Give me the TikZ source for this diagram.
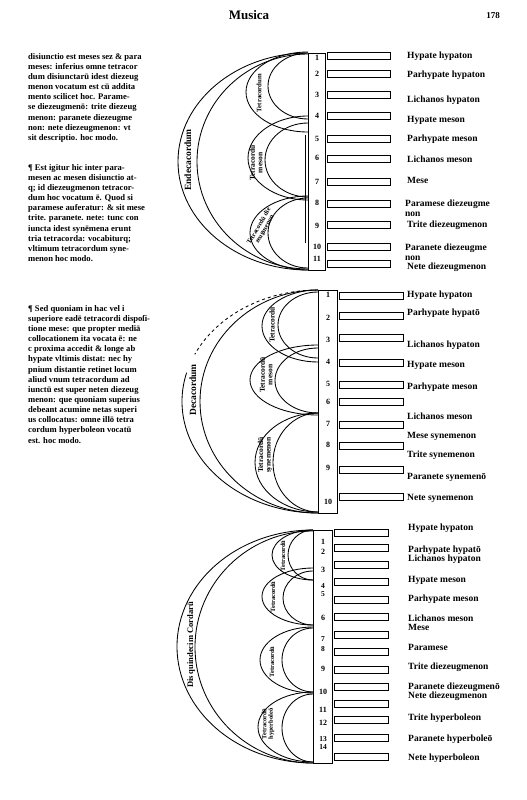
\documentclass[tikz,border=0pt]{standalone}
\usepackage{fontspec}
\setmainfont{Liberation Serif}
\begin{document}
\begin{tikzpicture}[x=1pt,y=-1pt,
  ln/.style={line width=0.85pt,black},
  barbox/.style={line width=0.75pt,black},
  lbl/.style={anchor=west,inner sep=0pt,font=\fontsize{9.5}{9.5}\selectfont\bfseries,align=left},
  lblt/.style={anchor=west,inner sep=0pt,font=\fontsize{9.5}{9}\selectfont\bfseries,align=left},
  num/.style={inner sep=0pt,align=center,font=\fontsize{8}{8}\selectfont\bfseries},
  body/.style={anchor=north west,inner sep=0pt,align=left,font=\fontsize{8.6}{10.15}\selectfont\bfseries},
  tl/.style={inner sep=0pt,align=center,font=\fontsize{7.5}{7.5}\selectfont\bfseries},
  tls/.style={inner sep=0pt,align=center,font=\fontsize{6.5}{6.5}\selectfont\bfseries},
  bl/.style={inner sep=0pt,font=\fontsize{9.5}{9.5}\selectfont\bfseries}]
\fill[white] (0,0) rectangle (527,800);
\useasboundingbox (0,0) rectangle (527,800);

% header
\node[inner sep=0pt,font=\fontsize{13}{13}\selectfont\bfseries] (head) at (249,15) {Musica};
\node[inner sep=0pt,font=\fontsize{9}{9}\selectfont\bfseries] (page) at (493,16) {178};

% left text
\node[body] (txt1) at (28,53) {disiunctio est meses sez \& para\\
meses: inferius omne tetracor\\
dum disiunctarū idest diezeug\\
menon vocatum est cū addita\\
mento scilicet hoc. Parame-\\
se diezeugmenō: trite diezeug\\
menon: paranete diezeugme\\
non: nete diezeugmenon: vt\\
sit descriptio. hoc modo.};

\node[body] (txt2) at (28,164) {¶ Est igitur hic inter para-\\
mesen ac mesen disiunctio at-\\
q; id diezeugmenon tetracor-\\
dum hoc vocatum ē. Quod si\\
paramese auferatur: \& sit mese\\
trite. paranete. nete: tunc con\\
iuncta idest synēmena erunt\\
tria tetracorda: vocabiturq;\\
vltimum tetracordum syne-\\
menon hoc modo.};

\node[body] (txt3) at (28,305) {¶ Sed quoniam in hac vel i\\
superiore eadē tetracordi dispoſi-\\
tione mese: que propter mediā\\
collocationem ita vocata ē: ne\\
c proxima accedit \& longe ab\\
hypate vltimis distat: nec hy\\
pnium distantie retinet locum\\
aliud vnum tetracordum ad\\
iunctū est super neten diezeug\\
menon: que quoniam superius\\
debeant acumine netas superi\\
us collocatus: omne illō tetra\\
cordum hyperboleon vocatū\\
est. hoc modo.};

% ================= diagram 1 =================
\draw[ln] (308,53) rectangle (325,270);
\draw[ln] (305,135) -- (305,243);
\foreach \y in {56,74,95,116,139,159,182,204,225,247,264}
  \draw[barbox] (327,\y-3.5) rectangle (390,\y+3.5);
\foreach \n/\y in {1/58,2/74,3/95,4/116,5/139,6/158,7/182,8/203,9/226,10/247,11/259}
  \node[num] (da\n) at (317,\y) {\n};
% arcs
\draw[ln] (308,53) arc[start angle=90,end angle=270,x radius=130pt,y radius=108.5pt];
\draw[ln] (308,54) arc[start angle=90,end angle=270,x radius=111pt,y radius=107.5pt];
\draw[ln] (308,52) arc[start angle=90,end angle=270,x radius=62pt,y radius=40pt];
\draw[ln] (308,53) arc[start angle=90,end angle=270,x radius=40pt,y radius=33pt];
\draw[ln] (308,116) arc[start angle=90,end angle=270,x radius=60pt,y radius=42pt];
\draw[ln] (308,123) arc[start angle=90,end angle=270,x radius=43pt,y radius=37pt];
\draw[ln] (308,196) arc[start angle=90,end angle=270,x radius=58pt,y radius=37pt];
\draw[ln] (308,198) arc[start angle=90,end angle=270,x radius=40pt,y radius=35pt];
% labels on arcs
\node[bl,rotate=90] (e1) at (188,160) {Endecacordum};
\node[tl,rotate=90,font=\fontsize{6.8}{6.8}\selectfont\bfseries] (t11) at (259,93) {Tetracordum};
\node[tl,rotate=90] (t12) at (256,163) {Tetracordū\\meson};
\node[tls,rotate=60] (t13) at (262,228) {Tetracordū die\\zeugmenon};
% right labels
\node[lbl] (a1) at (407,56) {Hypate hypaton};
\node[lbl] (a2) at (407,75) {Parhypate hypaton};
\node[lbl] (a3) at (407,100) {Lichanos hypaton};
\node[lbl] (a4) at (407,120) {Hypate meson};
\node[lbl] (a5) at (407,139) {Parhypate meson};
\node[lbl] (a6) at (407,159) {Lichanos meson};
\node[lbl] (a7) at (407,180) {Mese};
\node[lbl] (a8) at (405,208) {Paramese diezeugme\\non};
\node[lbl] (a9) at (407,225) {Trite diezeugmenon};
\node[lbl] (a10) at (405,252) {Paranete diezeugme\\non};
\node[lbl] (a11) at (407,267) {Nete diezeugmenon};

% ================= diagram 2 =================
\draw[ln] (318,290) rectangle (337,513);
\foreach \y in {296,316,338,363,385,402,425,446,470,497}
  \draw[barbox] (339,\y-3.5) rectangle (403,\y+3.5);
\foreach \n/\y in {1/295,2/318,3/340,4/362,5/384,6/402,7/424,8/445,9/468,10/502}
  \node[num] (db\n) at (328,\y) {\n};
\draw[ln,dashed] (318,290) arc[start angle=90,end angle=155,x radius=136pt,y radius=111.5pt];
\draw[ln] (318,290) ++(0,111.5) ++(165:136pt and 111.5pt) coordinate (d2s)
   arc[start angle=165,end angle=270,x radius=136pt,y radius=111.5pt];
\draw[ln] (318,290) arc[start angle=90,end angle=270,x radius=118pt,y radius=111.5pt];
\draw[ln] (318,290) arc[start angle=90,end angle=270,x radius=56pt,y radius=36pt];
\draw[ln] (318,292) arc[start angle=90,end angle=270,x radius=40pt,y radius=33pt];
\draw[ln] (318,345) arc[start angle=90,end angle=270,x radius=68pt,y radius=35pt];
\draw[ln] (318,348) arc[start angle=90,end angle=270,x radius=43pt,y radius=32.5pt];
\draw[ln] (318,413) arc[start angle=90,end angle=270,x radius=63pt,y radius=49.5pt];
\draw[ln] (318,413) arc[start angle=90,end angle=270,x radius=45pt,y radius=49.5pt];
\node[bl,rotate=90] (e2) at (193,390) {Decacordum};
\node[tl,rotate=90] (t21) at (272,325) {Tetracordū};
\node[tl,rotate=90] (t22) at (266,375) {Tetracordū\\meson};
\node[tl,rotate=90] (t23) at (265,455) {Tetracordū\\synemenon};
\node[lbl] (b1) at (407,295) {Hypate hypaton};
\node[lbl] (b2) at (407,313) {Parhypate hypatō};
\node[lbl] (b3) at (407,345) {Lichanos hypaton};
\node[lbl] (b4) at (407,365) {Hypate meson};
\node[lbl] (b5) at (407,387) {Parhypate meson};
\node[lbl] (b6) at (407,416) {Lichanos meson};
\node[lbl] (b7) at (407,436) {Mese synemenon};
\node[lbl] (b8) at (407,455) {Trite synemenon};
\node[lbl] (b9) at (407,477) {Paranete synemenō};
\node[lbl] (b10) at (407,498) {Nete synemenon};

% ================= diagram 3 =================
\draw[ln] (313,530) rectangle (332,763);
\foreach \y in {533,548,565,582,600,617,635,652,670,687,704,720,738,757}
  \draw[barbox] (334,\y-3.5) rectangle (388,\y+3.5);
\foreach \n/\y in {1/542,2/552,3/570,6/618,9/669,10/692,11/710,12/723}
  \node[num] (dc\n) at (323,\y) {\n};
\node[num,font=\fontsize{7.5}{7.5}\selectfont\bfseries] (dc4) at (323,590) {4\\5};
\node[num,font=\fontsize{7.5}{9.5}\selectfont\bfseries] (dc7) at (323,644) {7\\8};
\node[num,font=\fontsize{7.5}{7.5}\selectfont\bfseries] (dc13) at (323,743) {13\\14};
\draw[ln] (313,530) arc[start angle=90,end angle=270,x radius=136pt,y radius=116.5pt];
\draw[ln] (313,531) arc[start angle=90,end angle=270,x radius=118pt,y radius=116pt];
\draw[ln] (313,530) arc[start angle=90,end angle=270,x radius=41pt,y radius=25pt];
\draw[ln] (313,530) arc[start angle=90,end angle=270,x radius=25pt,y radius=25pt];
\draw[ln] (313,568) arc[start angle=90,end angle=270,x radius=51pt,y radius=28.5pt];
\draw[ln] (313,571) arc[start angle=90,end angle=270,x radius=30pt,y radius=27pt];
\draw[ln] (313,627) arc[start angle=90,end angle=270,x radius=53pt,y radius=33pt];
\draw[ln] (313,628) arc[start angle=90,end angle=270,x radius=31pt,y radius=32pt];
\draw[ln] (313,692) arc[start angle=90,end angle=270,x radius=55pt,y radius=35pt];
\draw[ln] (313,694) arc[start angle=90,end angle=270,x radius=31pt,y radius=34pt];
\node[bl,rotate=90,font=\fontsize{8.5}{8.5}\selectfont\bfseries] (e3) at (191,645) {Dis quindecim Cordarū};
\node[tls,rotate=90] (t31) at (283,556) {Tetracordū};
\node[tls,rotate=90] (t32) at (273,597) {Tetracordū};
\node[tls,rotate=90] (t33) at (272,662) {Tetracordū};
\node[tls,rotate=90] (t34) at (268,724) {Tetracordū\\hyperboleō};
\node[lbl] (c1) at (408,528) {Hypate hypaton};
\node[lblt] (c2) at (408,554.5) {Parhypate hypatō\\Lichanos hypaton};
\node[lbl] (c4) at (408,580) {Hypate meson};
\node[lbl] (c5) at (408,599) {Parhypate meson};
\node[lblt] (c6) at (408,623) {Lichanos meson\\Mese};
\node[lbl] (c8) at (408,647) {Paramese};
\node[lbl] (c9) at (408,667) {Trite diezeugmenon};
\node[lblt] (c10) at (408,691.5) {Paranete diezeugmenō\\Nete diezeugmenon};
\node[lbl] (c12) at (408,718) {Trite hyperboleon};
\node[lbl] (c13) at (408,739) {Paranete hyperboleō};
\node[lbl] (c14) at (408,758) {Nete hyperboleon};
\end{tikzpicture}
\end{document}
